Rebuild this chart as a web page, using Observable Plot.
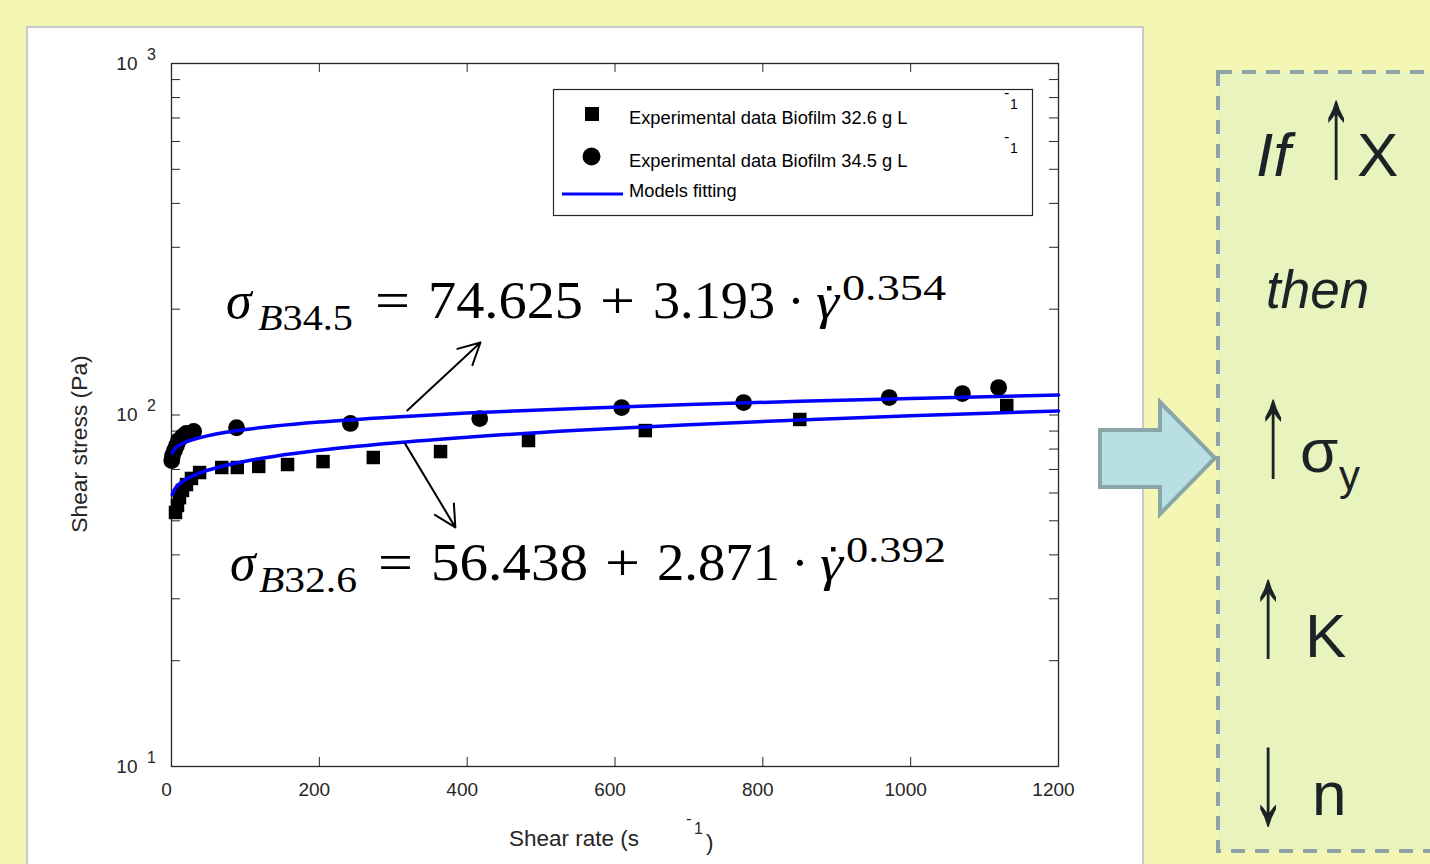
<!DOCTYPE html>
<html><head><meta charset="utf-8">
<script src="https://cdn.jsdelivr.net/npm/d3@7"></script>
<script src="https://cdn.jsdelivr.net/npm/@observablehq/plot@0.6"></script>
<style>
html,body{margin:0;padding:0;width:1430px;height:864px;overflow:hidden;background:#f3f7b3;font-family:"Liberation Sans",Arial,sans-serif;}
#panel{position:absolute;left:26px;top:26px;width:1118px;height:845px;background:#fff;border:2px solid #c8c8c8;box-sizing:border-box;}
#chart{position:absolute;left:0;top:0;}
#over{position:absolute;left:0;top:0;pointer-events:none;}
.eq{font-family:"Liberation Serif","Times New Roman",serif;fill:#000;}
.rt{font-family:"Liberation Sans",Arial,sans-serif;fill:#1d2226;}
</style></head><body>
<div id="panel"></div>
<div id="chart"></div>
<svg id="over" width="1430" height="864" xmlns="http://www.w3.org/2000/svg">
  <!-- legend -->
  <rect x="553.5" y="89.5" width="479" height="126" fill="#fff" stroke="#262626" stroke-width="1.2"/>
  <rect x="585" y="107" width="14" height="14" fill="#000"/>
  <circle cx="591.5" cy="156.5" r="9" fill="#000"/>
  <line x1="562" y1="194" x2="623" y2="194" stroke="#0000ff" stroke-width="3"/>
  <g font-family="'Liberation Sans',Arial,sans-serif" font-size="18.3" fill="#000">
    <text x="629" y="124">Experimental data Biofilm 32.6 g L</text>
    <text x="1004" y="98" font-size="16">-</text>
    <text x="1010" y="109" font-size="14">1</text>
    <text x="629" y="167">Experimental data Biofilm 34.5 g L</text>
    <text x="1004" y="142" font-size="16">-</text>
    <text x="1010" y="153" font-size="14">1</text>
    <text x="629" y="197">Models fitting</text>
  </g>
  <!-- axis titles -->
  <g font-family="'Liberation Sans',Arial,sans-serif" fill="#262626">
    <text transform="translate(87,444) rotate(-90)" text-anchor="middle" font-size="22.8">Shear stress (Pa)</text>
    <text x="509" y="846" font-size="22.5">Shear rate (s</text>
    <text x="686" y="824" font-size="17">-</text>
    <text x="694" y="834" font-size="16">1</text>
    <text x="706" y="850" font-size="22.5">)</text>
  </g>
  <!-- equations -->
  <g class="eq">
    <text x="226" y="318" font-size="52" font-style="italic">σ</text>
    <text x="258" y="330" font-size="35" textLength="95" lengthAdjust="spacingAndGlyphs"><tspan font-style="italic">B</tspan>34.5</text>
    <text x="375" y="318" font-size="52" textLength="35" lengthAdjust="spacingAndGlyphs">=</text>
    <text x="428" y="318" font-size="52" textLength="155" lengthAdjust="spacingAndGlyphs">74.625</text>
    <text x="600" y="318" font-size="52" textLength="35" lengthAdjust="spacingAndGlyphs">+</text>
    <text x="653" y="318" font-size="52" textLength="122" lengthAdjust="spacingAndGlyphs">3.193</text>
    <text x="796" y="318" font-size="52" text-anchor="middle">·</text>
    <text x="816" y="318" font-size="50" font-style="italic" textLength="23" lengthAdjust="spacingAndGlyphs">γ</text>
    <rect x="827" y="286" width="4.5" height="4.5" fill="#000"/>
    <text x="842" y="300" font-size="35" textLength="104" lengthAdjust="spacingAndGlyphs">0.354</text>

    <text x="230" y="580" font-size="52" font-style="italic">σ</text>
    <text x="259" y="592" font-size="35" textLength="98" lengthAdjust="spacingAndGlyphs"><tspan font-style="italic">B</tspan>32.6</text>
    <text x="378" y="580" font-size="52" textLength="35" lengthAdjust="spacingAndGlyphs">=</text>
    <text x="431" y="580" font-size="52" textLength="157" lengthAdjust="spacingAndGlyphs">56.438</text>
    <text x="605" y="580" font-size="52" textLength="35" lengthAdjust="spacingAndGlyphs">+</text>
    <text x="657" y="580" font-size="52" textLength="123" lengthAdjust="spacingAndGlyphs">2.871</text>
    <text x="800" y="580" font-size="52" text-anchor="middle">·</text>
    <text x="820" y="580" font-size="50" font-style="italic" textLength="23" lengthAdjust="spacingAndGlyphs">γ</text>
    <rect x="831" y="547" width="4.5" height="4.5" fill="#000"/>
    <text x="846" y="562" font-size="35" textLength="100" lengthAdjust="spacingAndGlyphs">0.392</text>
  </g>
  <!-- right side -->
  <rect x="1218" y="72" width="320" height="779" fill="#e8f3bd" stroke="#8fa2a6" stroke-width="4" stroke-dasharray="14 10"/>
  <polygon points="1100,430 1160,430 1160,402 1215,458 1160,514 1160,487 1100,487" fill="#b8dfe3" stroke="#8aa6a8" stroke-width="4" stroke-linejoin="miter"/>
  <g class="rt">
    <text x="1256" y="176" font-size="62" font-style="italic">If</text>
    <text transform="translate(1336,176) scale(0.8,1.6)" font-size="84" text-anchor="middle">↑</text>
    <text x="1357" y="176" font-size="62">X</text>
    <text x="1266" y="308" font-size="53" font-style="italic">then</text>
    <text transform="translate(1273,475) scale(0.8,1.6)" font-size="84" text-anchor="middle">↑</text>
    <text x="1300" y="472" font-size="62">σ</text>
    <text x="1339" y="490" font-size="42">y</text>
    <text transform="translate(1268,655) scale(0.8,1.6)" font-size="84" text-anchor="middle">↑</text>
    <text x="1305" y="657" font-size="62">K</text>
    <text transform="translate(1268,823) scale(0.8,1.6)" font-size="84" text-anchor="middle">↓</text>
    <text x="1312" y="815" font-size="62">n</text>
  </g>
</svg>
<script>
// ---- data ----
const rateB326 = [5.4, 8.1, 10.8, 14.9, 20.3, 27, 38, 68, 89, 118, 157, 205, 273, 364, 483, 641, 850, 1130];
const stressB326 = [52.8, 55.3, 58.2, 61.0, 63.4, 66.0, 68.6, 70.9, 70.9, 71.4, 72.3, 73.7, 75.7, 78.7, 84.6, 90.3, 97.1, 106.4];
const rateB345 = [0.3, 1.4, 4, 6.8, 9.5, 15, 20, 30, 88, 242, 417, 609, 774, 971, 1070, 1119];
const stressB345 = [74.2, 76.7, 79.3, 81.9, 84.6, 86.9, 88.6, 89.8, 92.0, 94.6, 97.7, 105, 108.5, 112.1, 115.1, 119.7];

// Herschel-Bulkley fit parameters shown in the chart
const modelNames = ["B32.6", "B34.5"];
const modelYield = [56.438, 74.625];
const modelK = [2.871, 3.193];
const modelN = [0.392, 0.354];
const rateGrid = [1, 2, 3, 5, 8, 12, 18, 25, 35, 50, 70, 100, 140, 200, 280, 400, 550, 700, 850, 1000, 1200];

// annotation arrows (data coordinates)
const arrowRate1 = [319, 316];
const arrowStress1 = [103, 82.9];
const arrowRate2 = [418, 384];
const arrowStress2 = [160.8, 47.9];

const xTicks = [0, 200, 400, 600, 800, 1000, 1200];
const yMajor = [10, 100, 1000];
const yExp = ["1", "2", "3"];
const yTicks = [10,20,30,40,50,60,70,80,90,100,200,300,400,500,600,700,800,900,1000];

// ---- build tables ----
const sq = rateB326.map((r, i) => ({rate: r, stress: stressB326[i]}));
const ci = rateB345.map((r, i) => ({rate: r, stress: stressB345[i]}));
const fit = modelNames.flatMap((name, j) => rateGrid.map(g => ({name, rate: g, stress: modelYield[j] + modelK[j] * Math.pow(g, modelN[j])})));
const arrows = arrowRate1.map((r, i) => ({x1: r, y1: arrowStress1[i], x2: arrowRate2[i], y2: arrowStress2[i]}));

const ink = "#262626";
const chart = Plot.plot({
  width: 1430, height: 864,
  marginLeft: 171, marginRight: 372, marginTop: 63, marginBottom: 98,
  style: {background: "none", fontFamily: "'Liberation Sans', Arial, sans-serif", color: ink, overflow: "visible"},
  x: {domain: [0, 1200], axis: null},
  y: {type: "log", domain: [10, 1000], axis: null},
  marks: [
    Plot.tickY(yTicks, {y: d => d, insetRight: 878, stroke: ink}),
    Plot.tickY(yTicks, {y: d => d, insetLeft: 878, stroke: ink}),
    Plot.tickX(xTicks, {x: d => d, insetTop: 694, stroke: ink}),
    Plot.tickX(xTicks, {x: d => d, insetBottom: 694, stroke: ink}),
    Plot.frame({stroke: ink, strokeWidth: 1.3}),
    Plot.text(xTicks, {x: d => d, frameAnchor: "bottom", dy: 23, dx: -5, text: d => String(d), fontSize: 19, lineAnchor: "middle", fill: ink}),
    Plot.text(yMajor, {y: d => d, frameAnchor: "left", dx: -34, text: () => "10", textAnchor: "end", fontSize: 19, lineAnchor: "middle", fill: ink}),
    Plot.text(yMajor, {y: d => d, frameAnchor: "left", dx: -20, dy: -9, text: (d, i) => yExp[i], textAnchor: "middle", fontSize: 16, lineAnchor: "middle", fill: ink}),
    Plot.dot(sq, {x: "rate", y: "stress", symbol: "square", r: 7.6, fill: "#000"}),
    Plot.dot(ci, {x: "rate", y: "stress", symbol: "circle", r: 8.4, fill: "#000"}),
    Plot.line(fit, {x: "rate", y: "stress", z: "name", stroke: "#0000ff", strokeWidth: 3.5, curve: "monotone-x"}),
    Plot.arrow(arrows, {x1: "x1", y1: "y1", x2: "x2", y2: "y2", stroke: "#000", strokeWidth: 2, headLength: 18, headAngle: 55})
  ]
});
document.getElementById("chart").append(chart);
</script>
</body></html>
